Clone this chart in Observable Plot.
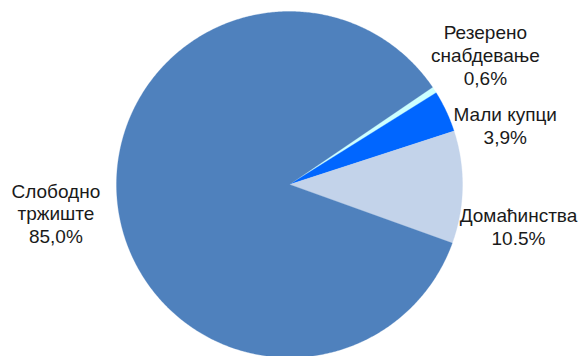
<!DOCTYPE html>
<html>
<head>
<meta charset="utf-8">
<script src="https://cdn.jsdelivr.net/npm/d3@7"></script>
<script src="https://cdn.jsdelivr.net/npm/@observablehq/plot@0.6"></script>
<style>
  html, body { margin: 0; padding: 0; background: #fff; overflow: hidden; }
  #chart svg { display: block; }
</style>
</head>
<body>
<div id="chart"></div>
<script>
// ---- data ----
const categories = ["Резерено\nснабдевање", "Мали купци", "Домаћинства", "Слободно\nтржиште"];
const shares = [0.6, 3.9, 10.5, 85.0];
const shareLabels = ["0,6%", "3,9%", "10.5%", "85,0%"];
const sliceColors = ["#ccffff", "#0066ff", "#c3d3ea", "#4f81bd"];

// ---- layout ----
const W = 585, H = 356;
const cx = 289, cy = 184, R = 173;           // pixel centre/radius
const startDeg = 55.8;                       // clockwise from 12 o'clock
const labelOffsets = [[51, -35], [59, 14], [56, 39], [-62, 7]]; // px from rim at mid-angle

const rows = categories.map((c, i) => ({name: c, value: shares[i], label: shareLabels[i], color: sliceColors[i], i}));
const arcs = d3.pie().sort(null).value(d => d.value)
  .startAngle(startDeg * Math.PI / 180)
  .endAngle(startDeg * Math.PI / 180 + 2 * Math.PI)(rows);

// polygon points for each slice (unit circle, y up)
const pts = [];
arcs.forEach(a => {
  const id = a.data.i;
  pts.push({id, color: a.data.color, x: 0, y: 0});
  const n = Math.max(2, Math.ceil((a.endAngle - a.startAngle) / (Math.PI / 360)));
  for (let k = 0; k <= n; k++) {
    const t = a.startAngle + (a.endAngle - a.startAngle) * k / n;
    pts.push({id, color: a.data.color, x: Math.sin(t), y: Math.cos(t)});
  }
  pts.push({id, color: a.data.color, x: 0, y: 0});
});

const labels = arcs.map(a => {
  const m = (a.startAngle + a.endAngle) / 2;
  return {i: a.data.i, x: Math.sin(m), y: Math.cos(m), text: a.data.name + "\n" + a.data.label};
});

const textMarks = labels.map(l => Plot.text([l], {
  x: "x", y: "y", text: "text",
  dx: labelOffsets[l.i][0], dy: labelOffsets[l.i][1],
  fontSize: 19, lineHeight: 1.2, fontFamily: "Liberation Sans, Arial, sans-serif",
  fill: "#1a1a1a", textAnchor: "middle", lineAnchor: "middle"
}));

const chart = Plot.plot({
  width: W, height: H,
  margin: 0,
  x: {domain: [-cx / R, (W - cx) / R], axis: null},
  y: {domain: [-(H - cy) / R, cy / R], axis: null},
  color: {type: "identity"},
  style: {background: "#fff", overflow: "hidden"},
  marks: [
    Plot.line(pts, {x: "x", y: "y", z: "id", fill: "color", stroke: "color", strokeWidth: 0.3, curve: "linear"}),
    ...textMarks
  ]
});
document.getElementById("chart").appendChild(chart);
</script>
</body>
</html>
